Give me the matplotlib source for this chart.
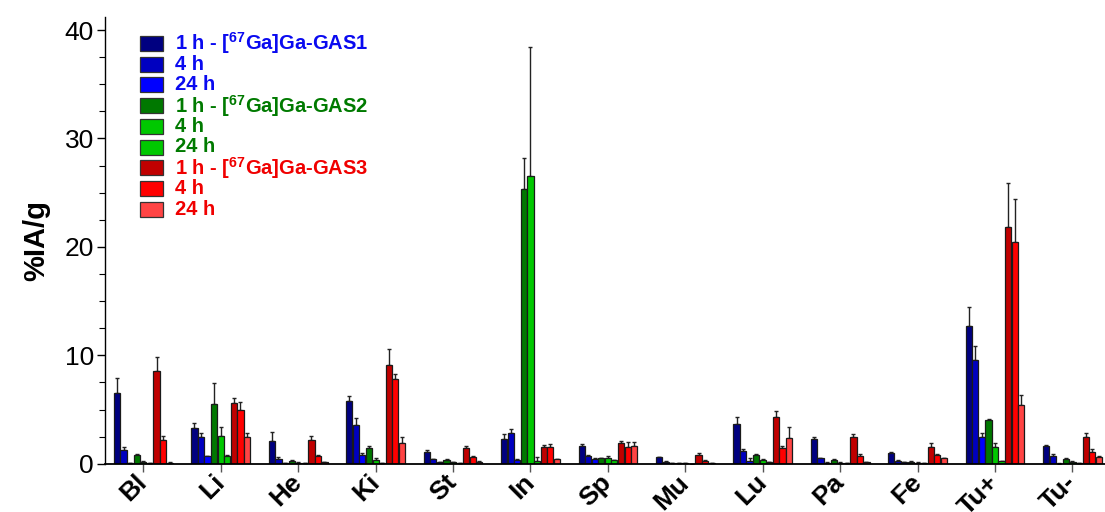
import matplotlib
matplotlib.use("Agg")
import matplotlib.pyplot as plt
import numpy as np
from matplotlib.patches import Rectangle
from matplotlib.ticker import MultipleLocator

plt.rcParams['font.family'] = ['Liberation Sans', 'DejaVu Sans']
plt.rcParams['mathtext.fontset'] = 'custom'
plt.rcParams['mathtext.bf'] = 'Liberation Sans:bold'
plt.rcParams['mathtext.rm'] = 'Liberation Sans'

# Organs (x categories)
organs = ["Bl", "Li", "He", "Ki", "St", "In", "Sp", "Mu", "Lu", "Pa", "Fe", "Tu+", "Tu-"]

# %IA/g values, with upper error bars
gas1_1h = [6.48, 3.34, 2.08, 5.79, 1.05, 2.31, 1.62, 0.60, 3.65, 2.26, 0.97, 12.66, 1.64]
gas1_1h_err = [1.40, 0.37, 0.86, 0.50, 0.20, 0.43, 0.20, 0.05, 0.64, 0.20, 0.08, 1.80, 0.10]
gas1_4h = [1.22, 2.45, 0.48, 3.57, 0.40, 2.86, 0.75, 0.20, 1.18, 0.50, 0.29, 9.58, 0.72]
gas1_4h_err = [0.28, 0.34, 0.10, 0.62, 0.05, 0.32, 0.05, 0.03, 0.18, 0.05, 0.05, 1.32, 0.20]
gas1_24h = [0.08, 0.69, 0.07, 0.83, 0.16, 0.34, 0.47, 0.05, 0.29, 0.10, 0.17, 2.50, 0.02]
gas1_24h_err = [0.02, 0.05, 0.02, 0.15, 0.03, 0.05, 0.07, 0.01, 0.20, 0.02, 0.03, 0.37, 0.01]

gas2_1h = [0.78, 5.49, 0.26, 1.42, 0.34, 25.34, 0.51, 0.08, 0.81, 0.38, 0.20, 4.04, 0.44]
gas2_1h_err = [0.10, 2.00, 0.05, 0.24, 0.06, 2.90, 0.05, 0.02, 0.05, 0.05, 0.03, 0.05, 0.05]
gas2_4h = [0.17, 2.60, 0.10, 0.37, 0.16, 26.50, 0.54, 0.05, 0.35, 0.10, 0.10, 1.52, 0.20]
gas2_4h_err = [0.05, 0.80, 0.03, 0.12, 0.03, 11.90, 0.18, 0.01, 0.10, 0.02, 0.02, 0.37, 0.05]
gas2_24h = [0.05, 0.72, 0.03, 0.05, 0.05, 0.28, 0.32, 0.01, 0.14, 0.03, 0.08, 0.23, 0.05]
gas2_24h_err = [0.01, 0.10, 0.01, 0.02, 0.01, 0.30, 0.03, 0.01, 0.03, 0.01, 0.02, 0.03, 0.01]

gas3_1h = [8.57, 5.59, 2.17, 9.11, 1.48, 1.51, 1.95, 0.78, 4.29, 2.50, 1.58, 21.84, 2.50]
gas3_1h_err = [1.28, 0.43, 0.37, 1.50, 0.18, 0.22, 0.15, 0.18, 0.60, 0.22, 0.30, 4.06, 0.30]
gas3_4h = [2.17, 4.91, 0.72, 7.82, 0.59, 1.57, 1.55, 0.26, 1.49, 0.75, 0.78, 20.45, 1.12]
gas3_4h_err = [0.43, 0.77, 0.10, 0.50, 0.10, 0.25, 0.43, 0.05, 0.18, 0.12, 0.10, 3.97, 0.22]
gas3_24h = [0.11, 2.45, 0.17, 1.94, 0.20, 0.40, 1.64, 0.06, 2.40, 0.16, 0.51, 5.37, 0.60]
gas3_24h_err = [0.03, 0.34, 0.03, 0.50, 0.03, 0.05, 0.34, 0.01, 1.00, 0.03, 0.05, 0.98, 0.10]

labels = [r"1 h - [$^{\mathbf{67}}$Ga]Ga-GAS1", "4 h", "24 h",
          r"1 h - [$^{\mathbf{67}}$Ga]Ga-GAS2", "4 h", "24 h",
          r"1 h - [$^{\mathbf{67}}$Ga]Ga-GAS3", "4 h", "24 h"]

series = [gas1_1h, gas1_4h, gas1_24h, gas2_1h, gas2_4h, gas2_24h, gas3_1h, gas3_4h, gas3_24h]
errors = [gas1_1h_err, gas1_4h_err, gas1_24h_err, gas2_1h_err, gas2_4h_err, gas2_24h_err,
          gas3_1h_err, gas3_4h_err, gas3_24h_err]

bar_colors = ["#000080", "#0000C0", "#0000FF",
              "#007800", "#00C800", "#00C800",
              "#C00000", "#FF0000", "#FF4444"]
text_colors = ["#0A0AF0"] * 3 + ["#007A00"] * 3 + ["#F00000"] * 3

fig = plt.figure(figsize=(11.05, 5.12), dpi=100)
ax = fig.add_axes([0.095, 0.0943, 0.905, 0.8725])

x = np.arange(len(organs))
width = 0.08
for i, (vals, err) in enumerate(zip(series, errors)):
    off = (i // 3 - 1) * 0.255 + (i % 3 - 1) * 0.084
    ax.bar(x + off, vals, width, color=bar_colors[i], edgecolor="#1a1a1a", linewidth=0.9, zorder=2)
    ax.errorbar(x + off, vals, yerr=[np.zeros(len(err)), err], fmt="none",
                ecolor="#222222", elinewidth=1.0, capsize=1.6, capthick=1.0, zorder=1)

ax.set_xlim(-0.495, 12.42)
ax.set_ylim(0, 41.2)
ax.set_yticks([0, 10, 20, 30, 40])
ax.yaxis.set_minor_locator(MultipleLocator(2.5))
ax.tick_params(axis="y", which="major", length=6, width=1, labelsize=19, pad=2)
ax.tick_params(axis="y", which="minor", length=4, width=0.8)
ax.tick_params(axis="x", length=6, width=1, color="#555555")
ax.set_xticks(x)
ax.set_xticklabels(organs, rotation=45, ha="right", va="center", rotation_mode="anchor",
                   fontsize=19, fontweight="bold")
for lab in ax.get_xticklabels():
    lab.set_y(-0.004)

ax.spines["top"].set_visible(False)
ax.spines["right"].set_visible(False)
ax.spines["left"].set_linewidth(1)
ax.spines["bottom"].set_linewidth(1.3)

ax.set_ylabel("%IA/g", fontsize=21, fontweight="bold", labelpad=10)

# Legend drawn by hand to match the row spacing
for i in range(9):
    yc = 1 - (43.5 + 20.7 * i) / 512
    fig.patches.append(Rectangle((139.5 / 1105, yc - 7.5 / 512), 23.5 / 1105, 15 / 512,
                                 transform=fig.transFigure, facecolor=bar_colors[i],
                                 edgecolor="#333333", linewidth=0.9))
    fig.text(175 / 1105, yc, labels[i], color=text_colors[i], fontsize=14.5,
             fontweight="bold", va="center", ha="left")

fig.savefig("out.png", dpi=100)
